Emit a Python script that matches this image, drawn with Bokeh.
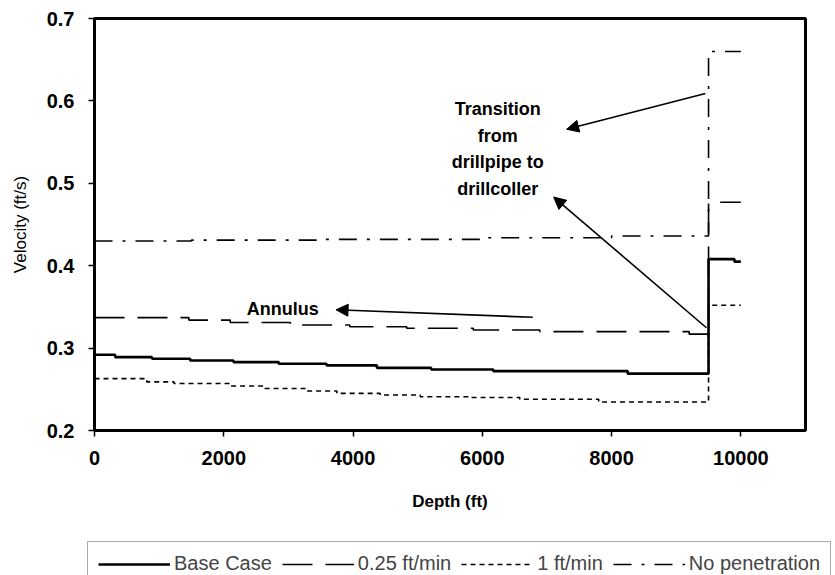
from bokeh.plotting import figure
from bokeh.layouts import column
from bokeh.models import (Range1d, FixedTicker, PrintfTickFormatter, Legend, LegendItem,
                          Arrow, NormalHead, Label)
from bokeh.embed import file_html
from bokeh.resources import INLINE

# Annular velocity versus depth for four penetration cases (step profiles)
base_depth = [0, 320, 890, 1480, 2150, 2850, 3590, 4370, 5210, 6170, 8250, 9500, 9900, 10000]
base_vel = [0.292, 0.289, 0.287, 0.285, 0.283, 0.281, 0.279, 0.276, 0.274, 0.272, 0.269, 0.408, 0.405, 0.405]

q25_depth = [0, 1460, 2100, 3030, 3950, 4830, 5860, 6890, 9200, 9500, 10000]
q25_vel = [0.337, 0.334, 0.331, 0.328, 0.326, 0.324, 0.322, 0.320, 0.317, 0.477, 0.477]

q1_depth = [0, 810, 1230, 2100, 2620, 3280, 3750, 4420, 5040, 5810, 6580, 7800, 9500, 10000]
q1_vel = [0.263, 0.259, 0.257, 0.254, 0.251, 0.248, 0.245, 0.243, 0.241, 0.240, 0.238, 0.2345, 0.352, 0.352]

nopen_depth = [0, 1500, 3500, 6000, 8000, 9500, 10000]
nopen_vel = [0.430, 0.431, 0.432, 0.434, 0.436, 0.660, 0.660]

series_names = ["Base Case", "0.25 ft/min", "1 ft/min", "No penetration"]
x_ticks = [0, 2000, 4000, 6000, 8000, 10000]
y_ticks = [0.2, 0.3, 0.4, 0.5, 0.6, 0.7]

FONT = "Liberation Sans"

series = [(base_depth, base_vel), (q25_depth, q25_vel), (q1_depth, q1_vel), (nopen_depth, nopen_vel)]

# Line styles shared by the chart and its key
styles = [
    dict(line_color="black", line_width=2.6),
    dict(line_color="black", line_width=1.6, line_dash="30 13"),
    dict(line_color="black", line_width=1.6, line_dash="5 4"),
    dict(line_color="black", line_width=1.6, line_dash="18 10 3 10"),
]

fig = figure(width=835, height=540, output_backend="svg", toolbar_location=None,
             x_range=Range1d(0, 11000), y_range=Range1d(0.2, 0.7),
             min_border_left=94, min_border_right=30, min_border_top=18, min_border_bottom=110)
fig.background_fill_color = "white"
fig.border_fill_color = "white"
fig.outline_line_color = "black"
fig.outline_line_width = 3
fig.xgrid.visible = False
fig.ygrid.visible = False

for ax in (fig.xaxis[0], fig.yaxis[0]):
    ax.axis_line_color = None
    ax.major_tick_out = 6
    ax.major_tick_in = 0
    ax.major_tick_line_width = 1.5
    ax.minor_tick_line_color = None
    ax.major_label_text_font = FONT
    ax.major_label_text_font_style = "bold"
    ax.major_label_text_font_size = "20px"
    ax.major_label_text_color = "black"
    ax.axis_label_text_font = FONT
    ax.axis_label_text_color = "black"

fig.xaxis.ticker = FixedTicker(ticks=x_ticks)
fig.yaxis.ticker = FixedTicker(ticks=y_ticks)
fig.xaxis.formatter = PrintfTickFormatter(format="%d")
fig.yaxis.formatter = PrintfTickFormatter(format="%.1f")
fig.xaxis.major_label_standoff = 14
fig.yaxis.major_label_standoff = 14
fig.xaxis.axis_label = "Depth (ft)"
fig.xaxis.axis_label_text_font_style = "bold"
fig.xaxis.axis_label_text_font_size = "17px"
fig.xaxis.axis_label_standoff = 24
fig.yaxis.axis_label = "Velocity (ft/s)"
fig.yaxis.axis_label_text_font_style = "normal"
fig.yaxis.axis_label_text_font_size = "17px"
fig.yaxis.axis_label_standoff = 14

for (xs, ys), s in zip(series, styles):
    fig.step(xs, ys, mode="after", **s)

# Callouts
head = dict(size=12, fill_color="black", line_color="black")
fig.add_layout(Arrow(end=NormalHead(**head), x_start=9452, y_start=0.609, x_end=7305, y_end=0.5656,
                     line_width=1.6, line_color="black"))
fig.add_layout(Arrow(end=NormalHead(**head), x_start=9467, y_start=0.3247, x_end=7104, y_end=0.4833,
                     line_width=1.6, line_color="black"))
fig.add_layout(Arrow(end=NormalHead(**head), x_start=6780, y_start=0.3374, x_end=3737, y_end=0.3465,
                     line_width=1.6, line_color="black"))

callout_lines = ["Transition", "from", "drillpipe to", "drillcoller"]
callout_y = [0.5898, 0.5571, 0.5257, 0.4930]
for txt, yy in zip(callout_lines, callout_y):
    fig.add_layout(Label(x=6239, y=yy, text=txt, text_align="center", text_baseline="middle",
                         text_font=FONT, text_font_style="bold", text_font_size="18px",
                         text_color="black"))
fig.add_layout(Label(x=2911, y=0.3477, text="Annulus", text_align="center", text_baseline="middle",
                     text_font=FONT, text_font_style="bold", text_font_size="18px",
                     text_color="black"))

# Key strip under the chart: same series, viewed outside their extent so only the key shows
key = figure(width=835, height=35, output_backend="svg", toolbar_location=None,
             x_axis_type=None, y_axis_type=None,
             x_range=Range1d(20000, 20001), y_range=Range1d(5, 6),
             min_border_left=0, min_border_right=0, min_border_top=0, min_border_bottom=0)
key.outline_line_color = None
key.background_fill_color = "white"
key.border_fill_color = "white"
key.xgrid.visible = False
key.ygrid.visible = False
key_renderers = [key.step(xs, ys, mode="after", **s) for (xs, ys), s in zip(series, styles)]

for plot in (fig, key):
    try:
        plot.frame_align = False
    except AttributeError:
        pass

legend = Legend(items=[LegendItem(label=n, renderers=[r]) for n, r in
                       zip(series_names, key_renderers)],
                orientation="horizontal", location=(87, -11),
                glyph_width=72, glyph_height=20, label_standoff=4, spacing=10,
                padding=10, margin=0,
                label_text_font=FONT, label_text_font_size="20px",
                border_line_color="#555555", border_line_width=1.5,
                background_fill_color="white", background_fill_alpha=1.0)
key.add_layout(legend, "center")

p = column(fig, key, spacing=0)

open("out.html", "w").write(file_html(p, INLINE))
